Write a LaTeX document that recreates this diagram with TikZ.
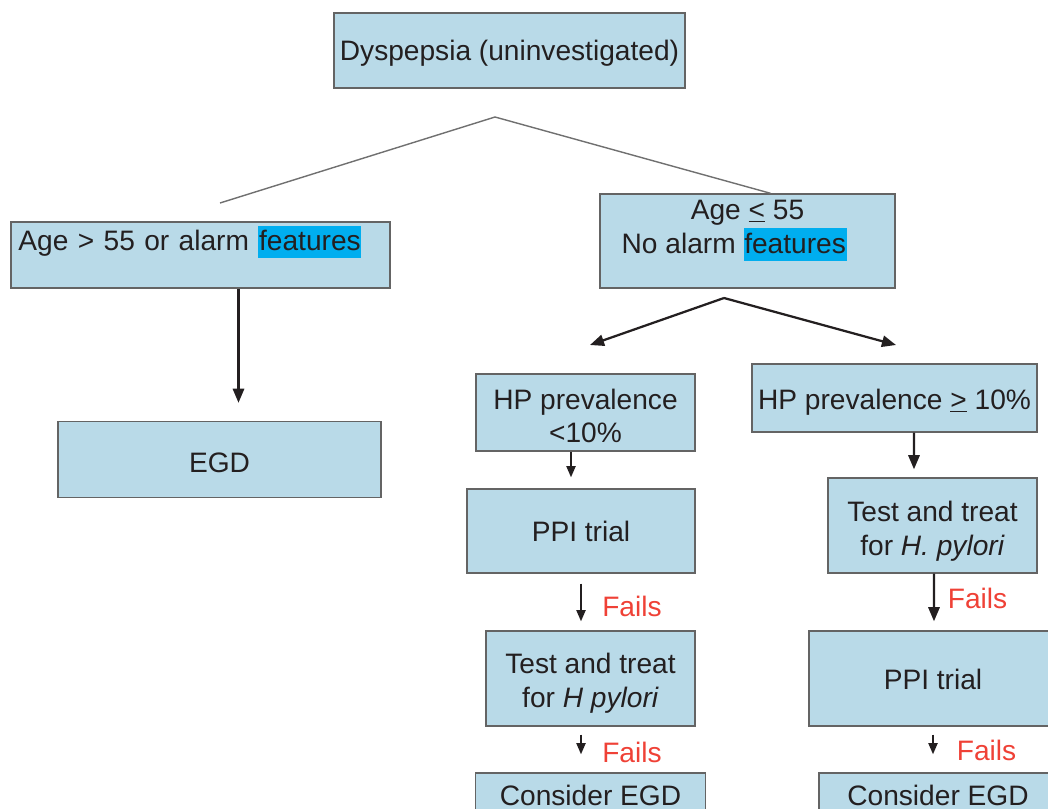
\documentclass[tikz,border=0pt]{standalone}
\usepackage{fontspec}
\setmainfont{Liberation Sans}
\usetikzlibrary{arrows.meta,calc}

\definecolor{boxblue}{RGB}{185,218,232}
\definecolor{boxline}{RGB}{100,100,100}
\definecolor{splitgray}{RGB}{112,112,112}
\definecolor{hlblue}{RGB}{0,174,239}
\definecolor{inkdark}{RGB}{35,31,32}
\definecolor{failred}{RGB}{239,65,54}

\newcommand{\hl}[1]{{\setlength{\fboxsep}{0.5pt}\colorbox{hlblue}{\rule[-4.5pt]{0pt}{21.8pt}#1}}}
\newcommand{\up}[1]{\rule{0pt}{#1}}

\def\px{0.025cm}

\begin{document}
\begin{tikzpicture}[x=\px, y=-\px]
    \tikzstyle{every node}=[font=\fontsize{20}{24}\selectfont, text=inkdark]
    \tikzstyle{box}=[draw=boxline, line width=1pt, fill=boxblue, inner sep=2pt, align=center]
    \tikzstyle{split}=[draw=splitgray, line width=1pt]
    \tikzstyle{arr}=[draw=inkdark, line width=1.6pt, -{Triangle[length=10pt,width=8pt]}]
    \tikzstyle{small arr}=[draw=inkdark, line width=1.3pt, -{Triangle[length=8pt,width=6.5pt]}]
    \tikzstyle{fail}=[text=failred, inner sep=0pt]

    \useasboundingbox (0,0) rectangle (1048,809);

    % Draw the decision boxes
    \node[box, minimum width=351*\px, minimum height=75*\px] (dysp) at (509.5,50.5)
        {\up{19pt}Dyspepsia (uninvestigated)};
    \node[box, align=left, inner xsep=5pt, text width=9.1cm, minimum width=379*\px, minimum height=66*\px] (ageL) at (200.5,255)
        {Age > 55 or alarm \hl{features}\\ \mbox{}};
    \node[box, minimum width=295*\px, minimum height=94*\px] (ageR) at (747.5,241)
        {Age \underline{<} 55\\ No alarm \hl{features}\hspace*{19pt}\mbox{}\\[-4pt] \mbox{}};
    \node[box, minimum width=323*\px, minimum height=76*\px] (egd) at (219.5,459.5) {\up{19pt}EGD};

    % Draw the low prevalence branch
    \node[box, minimum width=219*\px, minimum height=77*\px] (hpL) at (585.5,412.5)
        {\up{19.5pt}HP prevalence\\ <10\%};
    \node[box, minimum width=228*\px, minimum height=84*\px] (ppiL) at (581,531) {PPI trial};
    \node[box, minimum width=209*\px, minimum height=95*\px] (testL) at (590.5,678.5)
        {\up{21.5pt}Test and treat\\ for \textit{H pylori}};
    \node[box, minimum width=230*\px, minimum height=44*\px] (egdL) at (590.5,795) {Consider EGD};

    % Draw the high prevalence branch
    \node[box, minimum width=285*\px, minimum height=68*\px] (hpR) at (894.5,398)
        {\up{20.3pt}HP prevalence \underline{>} 10\%};
    \node[box, minimum width=209*\px, minimum height=95*\px] (testR) at (932.5,525.5)
        {\up{22.5pt}Test and treat\\ for \textit{H. pylori}};
    \node[box, minimum width=248*\px, minimum height=95*\px] (ppiR) at (933,678.5) {\up{16pt}PPI trial};
    \node[box, minimum width=238*\px, minimum height=44*\px] (egdR) at (938,795) {Consider EGD};

    % Failure labels
    \foreach \name / \x / \y in {failA/632/606, failB/632/752, failR/977.5/598, failS/986.5/750}
        \node[fail] (\name) at (\x,\y) {Fails};

    % Split lines under the first box
    \coordinate (fork) at (495,117);
    \coordinate (forkL) at (220,203);
    \draw[split] (fork) -- (forkL);
    \draw[split] (fork) -- ($(ageR.north)+(23,0)$);

    \coordinate (fork2) at (724,298);
    \coordinate (fork2L) at (590,345);
    \coordinate (fork2R) at (896,345);
    \draw[arr] (fork2) -- (fork2L);
    \draw[arr] (fork2) -- (fork2R);

    % Connect the boxes down each column
    \draw[arr] ($(ageL.south)+(38,0)$) -- ($(egd.north)+(19,-18)$);
    \draw[small arr] ($(hpL.south)+(-14.5,0)$) -- ($(ppiL.north)+(-10,-11)$);
    \draw[arr] ($(hpR.south)+(19.5,0)$) -- ($(testR.north)+(-18.5,-8)$);
    \draw[small arr] ($(ppiL.south)+(0,10)$) -- ($(testL.north)+(-9.5,-9)$);
    \draw[small arr] ($(testL.south)+(-9.5,8)$) -- ($(egdL.north)+(-9.5,-18)$);
    \draw[arr] ($(testR.south)+(1.5,0)$) -- ($(ppiR.north)+(1,-9)$);
    \draw[small arr] ($(ppiR.south)+(0,8)$) -- ($(egdR.north)+(-5,-18)$);
\end{tikzpicture}
\end{document}
